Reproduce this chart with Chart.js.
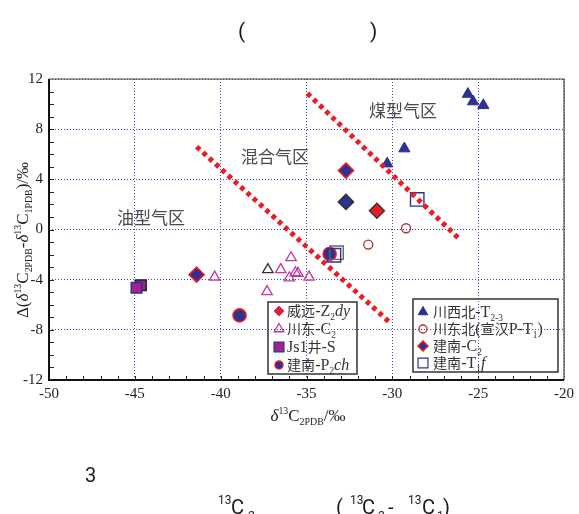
<!DOCTYPE html>
<html>
<head>
<meta charset="utf-8">
<script src="https://cdn.jsdelivr.net/npm/chart.js@4.4.1/dist/chart.umd.min.js"></script>
<style>
  html, body { margin: 0; background: #fff; }
  #wrap { width: 579px; height: 514px; position: relative; }
</style>
</head>
<body>
<div id="wrap"><canvas id="grafico"></canvas></div>
<script>
// valores (x = δ13C2, y = Δ(δ13C2-δ13C1))
var xTicks = [-50, -45, -40, -35, -30, -25, -20];
var yTicks = [-12, -8, -4, 0, 4, 8, 12];

var chuanxibeiX = [-25.6, -25.3, -24.7, -29.3, -30.3];
var chuanxibeiY = [10.8, 10.2, 9.9, 6.45, 5.25];

var chuandongbeiX = [-29.2, -31.4];
var chuandongbeiY = [0.1, -1.2];

var weiyuanX = [-30.9];
var weiyuanY = [1.5];

var jiannanC2X = [-32.7, -32.7, -41.4];
var jiannanC2Y = [4.7, 2.2, -3.6];

var chuandongX = [-36.5, -35.9, -40.35, -36.0, -35.65, -35.5, -34.85, -37.3];
var chuandongY = [-3.2, -2.25, -3.8, -3.85, -3.45, -3.5, -3.8, -4.95];
var chuandongPretoX = [-37.25];
var chuandongPretoY = [-3.2];

var js1X = [-44.65, -44.9];
var js1Y = [-4.45, -4.65];

var jiannanPX = [-38.9, -33.65];
var jiannanPY = [-6.85, -1.95];

var jiannanTX = [-33.25, -33.4, -28.55];
var jiannanTY = [-1.85, -2.05, 2.4];

// limites das zonas (linhas tracejadas vermelhas)
var limite1X = [-41.4, -30.2];
var limite1Y = [6.6, -7.35];
var limite2X = [-34.95, -26.1];
var limite2Y = [10.85, -0.75];

var AZUL = "#2e3192", VERMELHO = "#ed1c24", MAGENTA = "#c4379c", ROXO = "#a3238e";
var SERIF = '"Liberation Serif", "Noto Sans CJK SC", serif';

function pontos(xs, ys) {
  return xs.map(function (x, i) {
    return { x: x, y: ys[i] };
  });
}

function fonteParte(k, size) {
  var s = size;
  if (k.indexOf("b") >= 0 || k.indexOf("p") >= 0) s = size * 0.58;
  if (k.indexOf("c") >= 0) s = size * 0.88;
  return (k.indexOf("i") >= 0 ? "italic " : "") + s.toFixed(1) + "px " + SERIF;
}

function dyParte(k, size) {
  if (k.indexOf("b") >= 0) return size * 0.22;
  if (k.indexOf("p") >= 0) return -size * 0.4;
  return 0;
}

// texto com sub/sobrescritos: partes = [[texto, tipo], ...]
function textoRico(ctx, partes, x, y, size, align) {
  var larg = 0;
  partes.forEach(function (p) {
    ctx.font = fonteParte(p[1] || "", size);
    larg += ctx.measureText(p[0]).width;
  });
  var cx = align === "center" ? x - larg / 2 : x;
  ctx.textAlign = "left";
  ctx.textBaseline = "alphabetic";
  partes.forEach(function (p) {
    var k = p[1] || "";
    ctx.font = fonteParte(k, size);
    ctx.fillText(p[0], cx, y + dyParte(k, size));
    cx += ctx.measureText(p[0]).width;
  });
}

var legenda1 = [
  { estilo: "rectRot", r: 5, fundo: VERMELHO, borda: MAGENTA, bw: 1, y: 311,
    texto: [["威远", "c"], ["-Z"], ["2", "b"], ["dy", "i"]] },
  { estilo: "triangle", r: 5.5, fundo: "rgba(0,0,0,0)", borda: MAGENTA, bw: 1.3, y: 329,
    texto: [["川东", "c"], ["-C"], ["2", "b"]] },
  { estilo: "rect", r: 7, fundo: ROXO, borda: AZUL, bw: 1.2, y: 347,
    texto: [["Js1"], ["井", "c"], ["-S"]] },
  { estilo: "circle", r: 4, fundo: AZUL, borda: VERMELHO, bw: 1.5, y: 365,
    texto: [["建南", "c"], ["-P"], ["2", "b"], ["ch", "i"]] },
];
var legenda2 = [
  { estilo: "triangle", r: 5.5, fundo: AZUL, borda: AZUL, bw: 1, y: 312,
    texto: [["川西北", "c"], ["-T"], ["2-3", "b"]] },
  { estilo: "circle", r: 4, fundo: "rgba(0,0,0,0)", borda: "#c1272d", bw: 1.3, y: 329,
    texto: [["川东北", "c"], ["("], ["宣汉", "c"], ["P-T"], ["1", "b"], [")"]] },
  { estilo: "rectRot", r: 5, fundo: AZUL, borda: VERMELHO, bw: 1.5, y: 346,
    texto: [["建南", "c"], ["-C"], ["2", "b"]] },
  { estilo: "rect", r: 7, fundo: "rgba(0,0,0,0)", borda: AZUL, bw: 1.2, y: 363,
    texto: [["建南", "c"], ["-T"], ["1", "b"], ["f", "i"]] },
];

function desenhaLegenda(ctx, itens, caixa, xIcone, xTexto) {
  ctx.save();
  ctx.strokeStyle = "#333";
  ctx.lineWidth = 1.5;
  ctx.strokeRect(caixa[0], caixa[1], caixa[2], caixa[3]);
  itens.forEach(function (it) {
    ctx.fillStyle = it.fundo;
    ctx.strokeStyle = it.borda;
    ctx.lineWidth = it.bw;
    Chart.helpers.drawPoint(ctx, { pointStyle: it.estilo, radius: it.r, borderWidth: it.bw, rotation: 0 }, xIcone, it.y);
    ctx.fillStyle = "#333";
    textoRico(ctx, it.texto, xTexto, it.y + 5, 16, "left");
  });
  ctx.restore();
}

var decoracao = {
  id: "decoracao",
  afterDatasetsDraw: function (chart) {
    var ctx = chart.ctx, a = chart.chartArea;
    var sx = chart.scales.x, sy = chart.scales.y;
    ctx.save();
    // marcas menores para dentro
    ctx.strokeStyle = "#222";
    ctx.lineWidth = 1;
    ctx.beginPath();
    for (var v = -49; v < -20; v++) {
      var px = Math.round(sx.getPixelForValue(v)) + 0.5;
      ctx.moveTo(px, a.bottom);
      ctx.lineTo(px, a.bottom - 4);
    }
    for (var w = -11; w < 12; w++) {
      var py = Math.round(sy.getPixelForValue(w)) + 0.5;
      ctx.moveTo(a.left, py);
      ctx.lineTo(a.left + 5, py);
    }
    ctx.stroke();
    // moldura
    ctx.strokeStyle = "#444";
    ctx.lineWidth = 1.2;
    ctx.beginPath();
    ctx.moveTo(a.left, a.top);
    ctx.lineTo(a.right, a.top);
    ctx.lineTo(a.right, a.bottom);
    ctx.stroke();
    ctx.strokeStyle = "#111";
    ctx.lineWidth = 2;
    ctx.beginPath();
    ctx.moveTo(a.left, a.top);
    ctx.lineTo(a.left, a.bottom);
    ctx.lineTo(a.right, a.bottom);
    ctx.stroke();

    // zonas
    ctx.fillStyle = "#4a4a4a";
    ctx.textAlign = "center";
    ctx.textBaseline = "middle";
    ctx.font = '17px "Noto Sans CJK SC"';
    ctx.fillText("煤型气区", 403, 111);
    ctx.fillText("混合气区", 275, 157);
    ctx.fillText("油型气区", 151, 218);

    desenhaLegenda(ctx, legenda1, [268, 302, 89, 72], 279, 287);
    desenhaLegenda(ctx, legenda2, [413, 299, 145, 73], 423, 433);

    // títulos dos eixos
    ctx.fillStyle = "#222";
    textoRico(ctx, [["δ", "i"], ["13", "p"], ["C"], ["2PDB", "b"], ["/‰"]], 308, 421, 17, "center");
    ctx.translate(28, 240);
    ctx.rotate(-Math.PI / 2);
    textoRico(ctx, [["Δ("], ["δ", "i"], ["13", "p"], ["C"], ["2PDB", "b"], ["-"], ["δ", "i"], ["13", "p"], ["C"], ["1PDB", "b"], [")/‰"]], 0, 0, 17, "center");
    ctx.restore();

    // legenda da figura (os caracteres chineses não aparecem no original)
    ctx.save();
    ctx.fillStyle = "#1a1a1a";
    ctx.textBaseline = "alphabetic";
    ctx.textAlign = "left";
    ctx.font = "21px Roboto";
    ctx.fillText("(", 238, 38);
    ctx.fillText(")", 370, 38);
    ctx.font = "20px Roboto";
    ctx.fillText("3", 85, 482);
    var peq = "12px Roboto", grd = "20px Roboto";
    var pecas = [
      ["13", 218, 504, peq], ["C", 231, 514, grd], ["2", 248, 520, peq],
      ["(", 336, 514, grd], ["13", 350, 504, peq], ["C", 362, 514, grd], ["2", 378, 520, peq],
      ["-", 388, 514, grd], ["13", 408, 504, peq], ["C", 422, 514, grd], ["1", 437, 520, peq],
      [")", 443, 514, grd],
    ];
    pecas.forEach(function (p) {
      ctx.font = p[3];
      ctx.fillText(p[0], p[1], p[2]);
    });
    ctx.restore();
  },
};

var pontoBase = { showLine: false, order: 1 };

new Chart(document.getElementById("grafico"), {
  type: "scatter",
  data: {
    datasets: [
      {
        label: "limite1", data: pontos(limite1X, limite1Y), showLine: true, order: -1,
        borderColor: VERMELHO, borderWidth: 5, borderDash: [4.5, 4], borderCapStyle: "butt",
        pointRadius: 0, fill: false,
      },
      {
        label: "limite2", data: pontos(limite2X, limite2Y), showLine: true, order: -1,
        borderColor: VERMELHO, borderWidth: 5, borderDash: [4.5, 4], borderCapStyle: "butt",
        pointRadius: 0, fill: false,
      },
      {
        label: "川西北-T2-3", data: pontos(chuanxibeiX, chuanxibeiY), pointStyle: "triangle",
        pointRadius: 6.5, backgroundColor: AZUL, borderColor: AZUL, borderWidth: 1,
      },
      {
        label: "川东北(宣汉P-T1)", data: pontos(chuandongbeiX, chuandongbeiY), pointStyle: "circle",
        pointRadius: 4.5, backgroundColor: "rgba(0,0,0,0)", borderColor: "#c1272d", borderWidth: 1.3,
      },
      {
        label: "川东-C2", data: pontos(chuandongX, chuandongY), pointStyle: "triangle",
        pointRadius: 6, backgroundColor: "rgba(0,0,0,0)", borderColor: MAGENTA, borderWidth: 1.3,
      },
      {
        label: "川东-C2 (preto)", data: pontos(chuandongPretoX, chuandongPretoY), pointStyle: "triangle",
        pointRadius: 6, backgroundColor: "rgba(0,0,0,0)", borderColor: "#333", borderWidth: 1.3,
      },
      {
        label: "Js1井-S", data: pontos(js1X, js1Y), pointStyle: "rect",
        pointRadius: 7.5, backgroundColor: ROXO, borderColor: ["#222", AZUL], borderWidth: 1.5,
      },
      {
        label: "建南-T1f", data: pontos(jiannanTX, jiannanTY), pointStyle: "rect",
        pointRadius: 9.5, backgroundColor: "rgba(0,0,0,0)", borderColor: ["#666", AZUL, AZUL], borderWidth: 1.4,
      },
      {
        label: "建南-P2ch", data: pontos(jiannanPX, jiannanPY), pointStyle: "circle",
        pointRadius: 6.5, backgroundColor: AZUL, borderColor: VERMELHO, borderWidth: 1.6,
      },
      {
        label: "建南-C2", data: pontos(jiannanC2X, jiannanC2Y), pointStyle: "rectRot",
        pointRadius: 7.5, backgroundColor: AZUL, borderColor: [VERMELHO, "#333", VERMELHO], borderWidth: 1.6,
      },
      {
        label: "威远-Z2dy", data: pontos(weiyuanX, weiyuanY), pointStyle: "rectRot",
        pointRadius: 7.5, backgroundColor: VERMELHO, borderColor: "#333", borderWidth: 1.4,
      },
    ],
  },
  options: {
    responsive: true,
    maintainAspectRatio: false,
    animation: false,
    events: [],
    layout: { padding: { top: 79, right: 11, left: 0, bottom: 0 } },
    plugins: { legend: { display: false }, tooltip: { enabled: false } },
    scales: {
      x: {
        type: "linear", min: -50, max: -20,
        afterFit: function (s) { s.height = 134; },
        ticks: {
          stepSize: 1, autoSkip: false, maxRotation: 0, padding: 5, color: "#222",
          font: { family: "Liberation Serif", size: 15 },
          callback: function (v) { return xTicks.indexOf(v) >= 0 ? String(v) : ""; },
        },
        grid: {
          drawTicks: false, lineWidth: 1,
          color: function (c) { return c.tick && xTicks.indexOf(c.tick.value) >= 0 ? "#3b4cb0" : "rgba(0,0,0,0)"; },
        },
        border: { display: false, dash: [1, 2] },
      },
      y: {
        type: "linear", min: -12, max: 12,
        afterFit: function (s) { s.width = 49; },
        ticks: {
          stepSize: 1, autoSkip: false, padding: 6, color: "#222",
          font: { family: "Liberation Serif", size: 15 },
          callback: function (v) { return yTicks.indexOf(v) >= 0 ? String(v) : ""; },
        },
        grid: {
          drawTicks: false, lineWidth: 1,
          color: function (c) { return c.tick && yTicks.indexOf(c.tick.value) >= 0 ? "#3b4cb0" : "rgba(0,0,0,0)"; },
        },
        border: { display: false, dash: [1, 2] },
      },
    },
  },
  plugins: [decoracao],
});
</script>
</body>
</html>
